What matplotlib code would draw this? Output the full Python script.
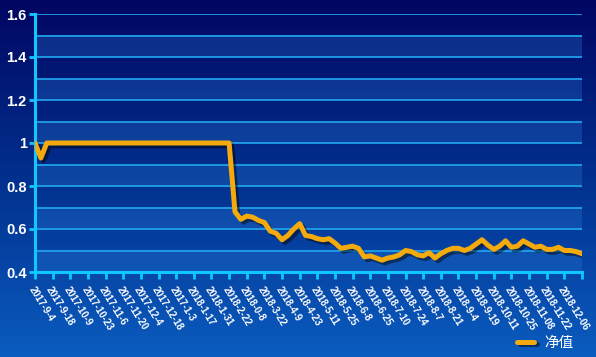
import numpy as np
import matplotlib
matplotlib.use('Agg')
import matplotlib.pyplot as plt
import matplotlib.patheffects as pe
from matplotlib.colors import LinearSegmentedColormap

plt.rcParams['font.family'] = ['Liberation Sans', 'Noto Sans CJK SC', 'DejaVu Sans']

# ==========================================
# 数据
# ==========================================
date_labels = ['2017-9-4', '2017-9-18', '2017-10-9', '2017-10-23', '2017-11-6', '2017-11-20',
               '2017-12-4', '2017-12-18', '2017-1-3', '2018-1-17', '2018-1-31', '2018-2-22',
               '2018-0-8', '2018-3-22', '2018-4-9', '2018-4-23', '2018-5-11', '2018-5-25',
               '2018-6-8', '2018-6-25', '2018-7-10', '2018-7-24', '2018-8-7', '2018-8-21',
               '2018-9-4', '2018-9-19', '2018-10-11', '2018-10-25', '2018-11-08', '2018-11-22',
               '2018-12-06']
points_per_label = 3

net_value = [1.0, 0.93, 1.0, 1.0, 1.0, 1.0, 1.0, 1.0, 1.0, 1.0,
             1.0, 1.0, 1.0, 1.0, 1.0, 1.0, 1.0, 1.0, 1.0, 1.0,
             1.0, 1.0, 1.0, 1.0, 1.0, 1.0, 1.0, 1.0, 1.0, 1.0,
             1.0, 1.0, 1.0, 1.0, 0.68, 0.645, 0.66, 0.655, 0.64, 0.63,
             0.59, 0.58, 0.55, 0.57, 0.60, 0.625, 0.57, 0.565, 0.555, 0.55,
             0.555, 0.535, 0.51, 0.515, 0.52, 0.51, 0.47, 0.475, 0.465, 0.455,
             0.465, 0.47, 0.48, 0.50, 0.495, 0.48, 0.475, 0.49, 0.465, 0.485,
             0.50, 0.51, 0.51, 0.50, 0.51, 0.53, 0.55, 0.525, 0.505, 0.52,
             0.545, 0.515, 0.52, 0.545, 0.53, 0.515, 0.52, 0.505, 0.505, 0.515,
             0.50, 0.50, 0.495, 0.485]

series_name = '净值'

# ==========================================
# 绘图
# ==========================================
fig = plt.figure(figsize=(5.96, 3.57), dpi=100)

# 背景渐变
bg = fig.add_axes([0, 0, 1, 1], zorder=0)
cmap = LinearSegmentedColormap.from_list('bg', ['#010662', '#02308e', '#0a5cbf'])
bg.imshow(np.linspace(0, 1, 256).reshape(-1, 1), aspect='auto', cmap=cmap,
          extent=[0, 1, 0, 1], origin='upper')
bg.set_axis_off()

ax = fig.add_axes([35 / 596, 1 - 272 / 357, (582 - 35) / 596, (272 - 14) / 357], zorder=1)
ax.patch.set_alpha(0)

x = np.arange(len(net_value))
n_ticks = len(date_labels) + 1
x_max = (n_ticks - 1) * points_per_label

# 交替色带
for lo in np.arange(0.4, 1.6, 0.2):
    ax.axhspan(lo, lo + 0.1, color='#2a7ad6', alpha=0.3, lw=0, zorder=0)

ax.set_ylim(0.4, 1.6)
ax.set_xlim(0, x_max)

ax.set_yticks(np.arange(0.4, 1.61, 0.2))
ax.set_yticklabels(['0.4', '0.6', '0.8', '1', '1.2', '1.4', '1.6'])
ax.set_yticks(np.arange(0.4, 1.61, 0.1), minor=True)
ax.grid(True, axis='y', which='both', color='#22a8f0', lw=1.2, zorder=1)

tick_pos = np.arange(n_ticks) * points_per_label
ax.set_xticks(tick_pos)
ax.set_xticklabels(date_labels + [''], rotation=-58, ha='left', va='top',
                   rotation_mode='anchor')

ax.tick_params(axis='x', colors='#10c8ff', length=5, width=2, pad=4,
               labelcolor='white', labelsize=7)
ax.tick_params(axis='y', which='major', colors='#10c8ff', length=4, width=2, pad=2,
               labelcolor='white', labelsize=10.5)
ax.tick_params(axis='y', which='minor', length=0)
for lab in ax.get_xticklabels() + ax.get_yticklabels():
    lab.set_fontweight('bold')

for side in ['top', 'right']:
    ax.spines[side].set_visible(False)
for side in ['left', 'bottom']:
    ax.spines[side].set_color('#10c8ff')
    ax.spines[side].set_linewidth(2.2)
    ax.spines[side].set_zorder(3)

shadow = [pe.SimpleLineShadow(offset=(2, -2), shadow_color='black', alpha=0.45), pe.Normal()]
line, = ax.plot(x, net_value, color='#f4a90c', lw=3.6, solid_joinstyle='round',
                solid_capstyle='round', zorder=4, label=series_name, path_effects=shadow)

leg = fig.legend(handles=[line], loc='center right', bbox_to_anchor=(0.985, 0.04),
                 frameon=False, handlelength=1.2, handletextpad=0.7,
                 prop={'family': ['Noto Sans CJK SC', 'DejaVu Sans'], 'size': 10.5})
for t in leg.get_texts():
    t.set_color('white')
for h in leg.legend_handles:
    h.set_path_effects(shadow)

fig.savefig('out.png', dpi=100)
